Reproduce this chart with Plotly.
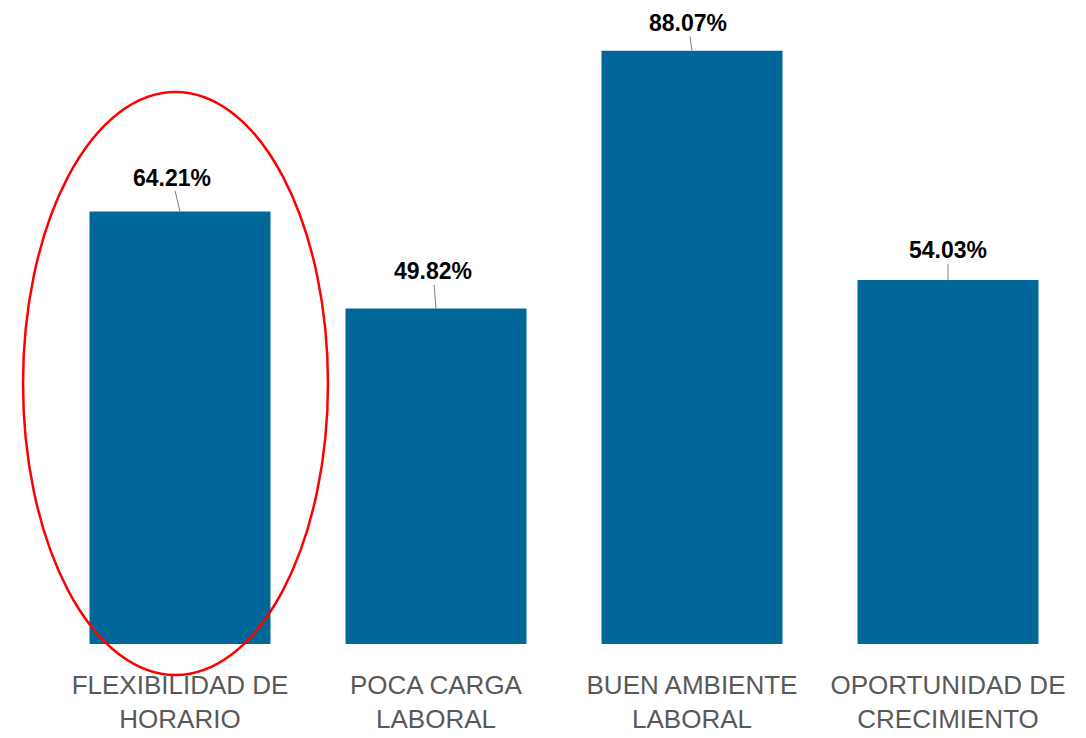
import plotly.graph_objects as go

categories = ["FLEXIBILIDAD DE<br>HORARIO", "POCA CARGA<br>LABORAL", "BUEN AMBIENTE<br>LABORAL", "OPORTUNIDAD DE<br>CRECIMIENTO"]
values = [64.21, 49.82, 88.07, 54.03]
label_texts = ["64.21%", "49.82%", "88.07%", "54.03%"]
label_dx = [-8, -3, -4, 0]
label_dy = [-34, -37, -28, -30]

fig = go.Figure()
fig.add_trace(go.Bar(
    x=categories, y=values,
    marker=dict(color="#006898", line=dict(width=0)),
    width=0.707,
    hoverinfo="skip",
))

for c, v, t, dx, dy in zip(categories, values, label_texts, label_dx, label_dy):
    fig.add_annotation(
        x=c, y=v, xref="x", yref="y", text=t,
        showarrow=True, arrowhead=0, arrowwidth=1, arrowcolor="#7f7f7f",
        ax=dx, ay=dy, standoff=0, borderpad=0,
        font=dict(family="Liberation Sans, Arial, sans-serif", size=23, color="#000000", weight="bold"),
    )

# red ellipse highlighting the first bar
fig.add_shape(
    type="circle", xref="paper", yref="paper",
    x0=-0.0283, x1=0.2695, y0=-0.0487, y1=0.868,
    line=dict(color="#ff0000", width=2.5),
    fillcolor="rgba(0,0,0,0)",
    layer="above",
)

fig.update_layout(
    width=1078, height=730,
    margin=dict(l=44, r=10, t=0, b=94),
    plot_bgcolor="#ffffff", paper_bgcolor="#ffffff",
    showlegend=False,
    bargap=0.293,
    xaxis=dict(
        showgrid=False, zeroline=False, showline=False, ticks="",
        tickfont=dict(family="Liberation Sans, Arial, sans-serif", size=26, color="#595959"),
        ticklabelstandoff=23,
        range=[-0.5, 3.5],
    ),
    yaxis=dict(
        range=[0, 94.43], visible=False, showgrid=False, zeroline=False,
    ),
)

fig.write_html("out.html", config={"displayModeBar": False})
